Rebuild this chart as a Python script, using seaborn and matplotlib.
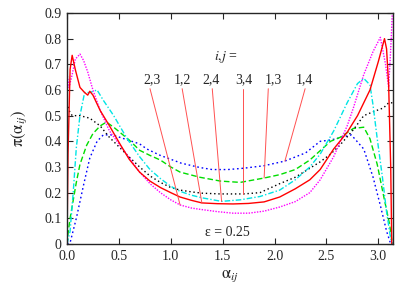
import numpy as np
import pandas as pd
import seaborn as sns
import matplotlib.pyplot as plt

sns.set_style("ticks")
plt.rcParams['font.family'] = ['Liberation Serif', 'DejaVu Serif']
plt.rcParams['mathtext.fontset'] = 'stix'

# pairs (i,j) and their curves pi(alpha_ij)
x_12 = [0.0, 0.01, 0.03, 0.05, 0.08, 0.125, 0.17, 0.2, 0.22, 0.25, 0.32, 0.41, 0.51, 0.6, 0.7, 0.8,
        0.9, 1.0, 1.09, 1.2, 1.3, 1.45, 1.6, 1.75, 1.9, 2.05, 2.2, 2.34, 2.44, 2.57, 2.7, 2.8,
        2.86, 2.92, 3.0, 3.06, 3.08, 3.1, 3.12, 3.13]
y_12 = [0.0, 0.35, 0.68, 0.735, 0.68, 0.61, 0.59, 0.58, 0.595, 0.58, 0.52, 0.46, 0.39, 0.33, 0.28, 0.245,
        0.22, 0.20, 0.183, 0.17, 0.16, 0.157, 0.156, 0.158, 0.164, 0.183, 0.215, 0.25, 0.29, 0.37, 0.435, 0.5,
        0.55, 0.60, 0.71, 0.80, 0.76, 0.62, 0.3, 0.0]

x_23 = [0.0, 0.02, 0.05, 0.08, 0.125, 0.16, 0.2, 0.25, 0.32, 0.41, 0.51, 0.61, 0.7, 0.8, 0.9, 1.0,
        1.09, 1.2, 1.3, 1.45, 1.6, 1.75, 1.9, 2.05, 2.2, 2.34, 2.44, 2.57, 2.7, 2.76, 2.86, 2.95,
        3.02, 3.07, 3.10, 3.125, 3.14]
y_23 = [0.665, 0.61, 0.66, 0.72, 0.74, 0.715, 0.67, 0.60, 0.52, 0.44, 0.385, 0.33, 0.28, 0.235, 0.20, 0.172,
        0.152, 0.14, 0.134, 0.126, 0.12, 0.12, 0.128, 0.144, 0.165, 0.2, 0.25, 0.34, 0.46, 0.53, 0.66, 0.75,
        0.805, 0.70, 0.61, 0.8, 0.95]

x_24 = [0.0, 0.03, 0.06, 0.09, 0.125, 0.17, 0.22, 0.29, 0.35, 0.45, 0.58, 0.7, 0.8, 0.9, 1.0, 1.09,
        1.2, 1.3, 1.49, 1.67, 1.86, 2.05, 2.2, 2.34, 2.44, 2.57, 2.7, 2.8, 2.86, 2.92, 2.95, 2.99,
        3.04, 3.08, 3.12, 3.14]
y_24 = [0.0, 0.05, 0.2, 0.375, 0.5, 0.59, 0.59, 0.60, 0.56, 0.50, 0.41, 0.34, 0.29, 0.255, 0.225, 0.205,
        0.19, 0.18, 0.166, 0.172, 0.185, 0.21, 0.25, 0.30, 0.35, 0.44, 0.55, 0.625, 0.645, 0.62, 0.54, 0.41,
        0.26, 0.125, 0.02, 0.0]

x_34 = [0.0, 0.02, 0.05, 0.125, 0.22, 0.32, 0.41, 0.51, 0.61, 0.7, 0.8, 0.9, 1.0, 1.09, 1.2, 1.3,
        1.48, 1.7, 1.86, 2.05, 2.2, 2.34, 2.44, 2.54, 2.63, 2.76, 2.86, 2.95, 3.05, 3.10, 3.14]
y_34 = [0.55, 0.52, 0.50, 0.50, 0.49, 0.46, 0.415, 0.375, 0.335, 0.30, 0.265, 0.24, 0.22, 0.21, 0.203, 0.198,
        0.195, 0.195, 0.20, 0.235, 0.26, 0.295, 0.32, 0.35, 0.385, 0.445, 0.50, 0.515, 0.53, 0.55, 0.55]

x_13 = [0.0, 0.01, 0.03, 0.06, 0.09, 0.125, 0.19, 0.25, 0.32, 0.38, 0.45, 0.51, 0.6, 0.7, 0.8, 0.9,
        1.0, 1.09, 1.28, 1.48, 1.67, 1.9, 2.05, 2.2, 2.34, 2.54, 2.63, 2.76, 2.86, 2.92, 2.99, 3.05,
        3.11, 3.135]
y_13 = [0.0, 0.04, 0.10, 0.17, 0.24, 0.31, 0.385, 0.43, 0.46, 0.475, 0.455, 0.435, 0.405, 0.365, 0.345, 0.327,
        0.30, 0.28, 0.26, 0.245, 0.24, 0.257, 0.27, 0.29, 0.327, 0.40, 0.415, 0.45, 0.455, 0.41, 0.31, 0.19,
        0.075, 0.0]

x_14 = [0.0, 0.03, 0.09, 0.16, 0.22, 0.29, 0.35, 0.44, 0.55, 0.7, 0.77, 0.9, 1.0, 1.1, 1.28, 1.4,
        1.55, 1.7, 1.9, 2.1, 2.3, 2.44, 2.54, 2.64, 2.74, 2.86, 2.95, 3.02, 3.08, 3.12, 3.14]
y_14 = [0.0, 0.005, 0.10, 0.23, 0.335, 0.40, 0.425, 0.425, 0.41, 0.39, 0.37, 0.345, 0.33, 0.315, 0.298, 0.29,
        0.29, 0.295, 0.305, 0.323, 0.355, 0.40, 0.405, 0.415, 0.425, 0.37, 0.26, 0.15, 0.05, 0.0, 0.0]

pairs = ['2,3', '1,2', '2,4', '3,4', '1,3', '1,4']
curves = {'1,2': (x_12, y_12), '2,3': (x_23, y_23), '2,4': (x_24, y_24),
          '3,4': (x_34, y_34), '1,3': (x_13, y_13), '1,4': (x_14, y_14)}
# where each label's pointer touches its curve
pointer_alpha = [1.09, 1.30, 1.49, 1.70, 1.90, 2.10]

frames = []
for p, (xs, ys) in curves.items():
    frames.append(pd.DataFrame({'alpha': xs, 'pi': ys, 'pair': p}))
df = pd.concat(frames, ignore_index=True)

palette = {'1,2': '#ff0000', '2,3': '#ff00ff', '2,4': '#00e5e5',
           '3,4': '#000000', '1,3': '#00dd00', '1,4': '#0000ff'}
dashes = {'1,2': '', '2,3': (1, 1), '2,4': (4, 1.5, 1, 1.5),
          '3,4': (1, 2), '1,3': (4, 2), '1,4': (1.2, 2)}

fig = plt.figure(figsize=(4.15, 2.97), dpi=100)
ax = fig.add_axes([0.1614, 0.1785, 0.7855, 0.7778])

order = ['1,4', '1,3', '3,4', '2,4', '2,3', '1,2']
sns.lineplot(data=df, x='alpha', y='pi', hue='pair', style='pair', hue_order=order,
             style_order=order, palette=palette, dashes=dashes, estimator=None, sort=False,
             linewidth=1.0, legend=False, ax=ax)

ax.set_xlim(0, np.pi)
ax.set_ylim(0, 0.9)
ax.set_xticks([0, 0.5, 1.0, 1.5, 2.0, 2.5, 3.0])
ax.set_xticklabels(['0.0', '0.5', '1.0', '1.5', '2.0', '2.5', '3.0'])
ax.set_yticks(np.arange(0, 0.91, 0.1))
ax.set_yticklabels(['0'] + ['%.1f' % v for v in np.arange(0.1, 0.91, 0.1)])
ax.tick_params(direction='in', top=True, right=True, length=4, width=0.8,
               labelsize=10, pad=4)
for s in ax.spines.values():
    s.set_linewidth(1.0)

ax.set_xlabel(r'$\mathrm{\alpha}_{ij}$', fontsize=12, labelpad=4)
ax.set_ylabel(r'$\mathrm{\pi}(\mathrm{\alpha}_{ij})$', fontsize=12, labelpad=11)

ax.text(1.53, 0.73, r'$i{,}j$ =', fontsize=10, ha='center', va='center')
label_alpha = [0.82, 1.11, 1.39, 1.70, 1.99, 2.29]
start_alpha = [0.80, 1.11, 1.40, 1.70, 1.94, 2.295]
for p, la, sa, pa in zip(pairs, label_alpha, start_alpha, pointer_alpha):
    xs, ys = curves[p]
    py = np.interp(pa, xs, ys)
    ax.text(la, 0.64, p, fontsize=10, ha='center', va='center')
    ax.plot([sa, pa], [0.605, py], color='#ff5050', linewidth=0.7)

ax.text(1.55, 0.045, 'ε = 0.25', fontsize=10, ha='center', va='center')

fig.savefig('out.png', dpi=100)
